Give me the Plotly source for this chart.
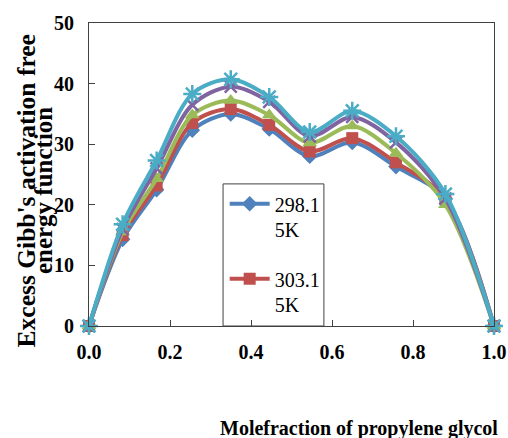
import plotly.graph_objects as go

x_frac = [0.0, 0.083, 0.167, 0.255, 0.35, 0.445, 0.545, 0.65, 0.758, 0.88, 1.0]
g_29815 = [0, 14.3, 22.5, 32.3, 35.0, 32.5, 28.0, 30.3, 26.3, 21.0, 0]
g_30315 = [0, 15.0, 23.2, 33.5, 35.8, 33.2, 28.8, 31.0, 27.0, 21.0, 0]
g_30815 = [0, 15.5, 24.3, 34.8, 37.2, 34.8, 30.2, 33.0, 28.5, 20.0, 0]
g_31315 = [0, 16.0, 26.0, 36.5, 39.5, 37.0, 31.3, 34.5, 30.3, 21.0, 0]
g_31815 = [0, 16.8, 27.3, 38.3, 40.7, 37.8, 32.0, 35.5, 31.3, 21.8, 0]

series_names = ["298.1<br>5K", "303.1<br>5K", "308.1<br>5K", "313.1<br>5K", "318.1<br>5K"]
series_vals = [g_29815, g_30315, g_30815, g_31315, g_31815]
colors = ["#4F81BD", "#C0504D", "#9BBB59", "#8064A2", "#4BACC6"]
symbols = ["diamond", "square", "triangle-up", "x-thin-open", "asterisk-open"]
msizes = [12, 12, 13, 12, 15]
show = [True, True, False, False, False]

y_ticks = [0, 10, 20, 30, 40, 50]
x_ticks = [0.0, 0.2, 0.4, 0.6, 0.8, 1.0]

fig = go.Figure()
for i in range(5):
    open_sym = symbols[i].endswith("open")
    fig.add_trace(go.Scatter(
        x=x_frac, y=series_vals[i], name=series_names[i],
        mode="lines+markers",
        line=dict(color=colors[i], width=4, shape="spline", smoothing=0.9),
        marker=dict(symbol=symbols[i], size=msizes[i], color=colors[i],
                    line=dict(color=colors[i], width=2.5 if open_sym else 0)),
        showlegend=show[i], legendgroup=str(i), cliponaxis=False,
    ))

font_serif = "Liberation Serif"

fig.update_layout(
    width=508, height=438,
    margin=dict(l=89, r=14, t=23, b=112, autoexpand=False),
    paper_bgcolor="white", plot_bgcolor="white",
    showlegend=True,
    legend=dict(x=0.335, y=0.468, xanchor="left", yanchor="top",
                bgcolor="rgba(0,0,0,0)", borderwidth=0,
                font=dict(family=font_serif, size=20, color="black"),
                valign="top", tracegroupgap=20, itemwidth=40),
    xaxis=dict(range=[0, 1.0], tickvals=x_ticks, tickformat=".1f",
               ticks="inside", ticklen=6, tickcolor="#404040",
               showline=True, linecolor="#404040", linewidth=1, mirror=True,
               showgrid=False, zeroline=False, ticklabelstandoff=8, automargin=False,
               tickfont=dict(family=font_serif, size=20, color="black", weight="bold")),
    yaxis=dict(range=[0, 50], tickvals=y_ticks,
               ticks="inside", ticklen=6, tickcolor="#404040",
               showline=True, linecolor="#404040", linewidth=1, mirror=True,
               showgrid=False, zeroline=False, ticklabelstandoff=10, automargin=False,
               tickfont=dict(family=font_serif, size=20, color="black", weight="bold")),
    shapes=[dict(type="rect", xref="paper", yref="paper",
                 x0=0.331, x1=0.580, y0=0, y1=0.469,
                 line=dict(color="#404040", width=1))],
    annotations=[
        dict(text="Excess Gibb's activation free", xref="paper", yref="paper",
             x=-0.155, y=0.445, xanchor="center", yanchor="middle",
             textangle=-90, showarrow=False,
             font=dict(family=font_serif, size=25.5, color="black", weight="bold")),
        dict(text="energy function", xref="paper", yref="paper",
             x=-0.114, y=0.448, xanchor="center", yanchor="middle",
             textangle=-90, showarrow=False,
             font=dict(family=font_serif, size=25, color="black", weight="bold")),
        dict(text="Molefraction of propylene glycol", xref="paper", yref="paper",
             x=0.318, y=-0.337, xanchor="left", yanchor="middle",
             showarrow=False,
             font=dict(family=font_serif, size=20, color="black", weight="bold")),
    ],
)

# remove the default page margin so the 508x438 figure fills the window exactly
fig.write_html("out.html",
               config={"displayModeBar": False},
               post_script="document.body.style.margin='0';document.body.style.overflow='hidden';")
